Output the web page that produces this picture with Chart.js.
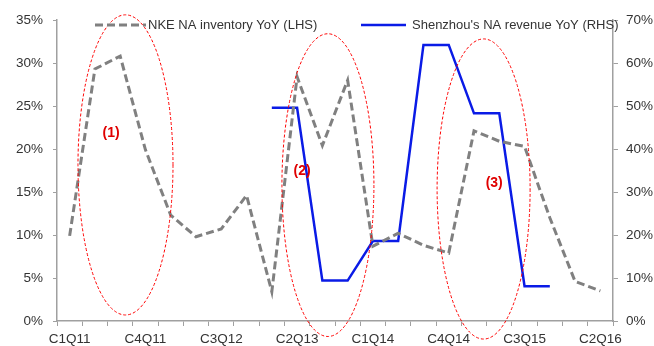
<!DOCTYPE html>
<html>
<head>
<meta charset="utf-8">
<script src="https://cdn.jsdelivr.net/npm/chart.js@4"></script>
<style>
  html, body { margin: 0; padding: 0; background: #fff; }
  #wrap { width: 654px; height: 346px; }
</style>
</head>
<body>
<div id="wrap"><canvas id="chart"></canvas></div>
<script>
var quarters = [
  "C1Q11", "C2Q11", "C3Q11", "C4Q11", "C1Q12", "C2Q12", "C3Q12", "C4Q12",
  "C1Q13", "C2Q13", "C3Q13", "C4Q13", "C1Q14", "C2Q14", "C3Q14", "C4Q14",
  "C1Q15", "C2Q15", "C3Q15", "C4Q15", "C1Q16", "C2Q16"
];
// NKE NA inventory YoY, % (left axis)
var nkeInventory = [9.9, 29.3, 30.8, 19.9, 12.3, 9.8, 10.7, 14.6, 3.4, 28.4, 20.4, 28.0,
  8.7, 10.2, 8.8, 7.9, 22.1, 20.9, 20.3, 12.0, 4.6, 3.5];
// Shenzhou NA revenue YoY, % (right axis)
var shenzhouRevenue = [null, null, null, null, null, null, null, null, 49.6, 49.6, 9.4, 9.4,
  18.6, 18.6, 64.2, 64.2, 48.3, 48.3, 8.1, 8.1, null, null];
var leftTicks = [0, 5, 10, 15, 20, 25, 30, 35];
var rightTicks = [0, 10, 20, 30, 40, 50, 60, 70];

// highlighted periods: center quarter index, half width in quarters, top/bottom on left axis (%)
var circles = [
  { label: "(1)", cx: 2.21, rx: 1.88, top: 35.6, bottom: 0.7, lx: 1.64, ly: 21.8 },
  { label: "(2)", cx: 10.22, rx: 1.82, top: 33.4, bottom: -1.8, lx: 9.2, ly: 17.4 },
  { label: "(3)", cx: 16.38, rx: 1.84, top: 32.8, bottom: -2.1, lx: 16.8, ly: 16.0 }
];

var FONT = "'Liberation Sans', Arial, sans-serif";
var AXIS = "#a0a0a0";

var annotations = {
  id: "annotations",
  afterDraw: function (chart) {
    var c = chart.ctx, x = chart.scales.x, y = chart.scales.y;
    c.save();
    circles.forEach(function (e) {
      var cx = x.getPixelForValue(e.cx);
      var rx = x.getPixelForValue(e.cx + e.rx) - cx;
      var t = y.getPixelForValue(e.top), b = y.getPixelForValue(e.bottom);
      c.beginPath();
      c.setLineDash([3, 2]);
      c.strokeStyle = "#ff0000";
      c.lineWidth = 1;
      c.ellipse(cx, (t + b) / 2, rx, (b - t) / 2, 0, 0, Math.PI * 2);
      c.stroke();
      c.setLineDash([]);
      c.fillStyle = "#e00000";
      c.font = "bold 14px " + FONT;
      c.textAlign = "center";
      c.textBaseline = "middle";
      c.fillText(e.label, x.getPixelForValue(e.lx), y.getPixelForValue(e.ly));
    });

    // legend
    var ds = chart.data.datasets;
    var items = [{ d: ds[0], x0: 95, x1: 146, tx: 148 }, { d: ds[1], x0: 361, x1: 406, tx: 412 }];
    items.forEach(function (it) {
      c.beginPath();
      c.strokeStyle = it.d.borderColor;
      c.lineWidth = it.d.borderWidth;
      c.setLineDash(it.d.borderDash || []);
      c.moveTo(it.x0, 25);
      c.lineTo(it.x1, 25);
      c.stroke();
      c.setLineDash([]);
      c.fillStyle = "#333";
      c.font = "13px " + FONT;
      c.textAlign = "left";
      c.textBaseline = "middle";
      c.fillText(it.d.label, it.tx, 25);
    });
    c.restore();
  }
};

new Chart(document.getElementById("chart"), {
  type: "line",
  data: {
    labels: quarters,
    datasets: [
      {
        label: "NKE NA inventory YoY (LHS)",
        data: nkeInventory,
        yAxisID: "y",
        borderColor: "#808080",
        borderWidth: 3,
        borderDash: [8, 4],
        pointRadius: 0,
        tension: 0
      },
      {
        label: "Shenzhou's NA revenue YoY (RHS)",
        data: shenzhouRevenue,
        yAxisID: "y1",
        borderColor: "#0a1be6",
        borderWidth: 2.5,
        pointRadius: 0,
        tension: 0,
        spanGaps: false
      }
    ]
  },
  options: {
    responsive: true,
    maintainAspectRatio: false,
    animation: false,
    layout: { padding: { top: 20, left: 0, right: 0, bottom: 0 } },
    plugins: {
      legend: { display: false },
      tooltip: { enabled: false }
    },
    scales: {
      x: {
        offset: true,
        grid: { offset: true, drawOnChartArea: false, drawTicks: true, tickLength: 5, color: AXIS },
        border: { color: AXIS, width: 1.5 },
        ticks: {
          autoSkip: false,
          maxRotation: 0,
          padding: 5,
          color: "#333",
          font: { family: FONT, size: 13.5 },
          callback: function (v, i) { return i % 3 === 0 ? quarters[i] : ""; }
        },
        afterFit: function (s) { s.height = 25; }
      },
      y: {
        position: "left",
        min: leftTicks[0],
        max: leftTicks[leftTicks.length - 1],
        afterBuildTicks: function (s) { s.ticks = leftTicks.map(function (v) { return { value: v }; }); },
        grid: { drawOnChartArea: false, tickLength: 4, color: AXIS },
        border: { color: AXIS, width: 1.5 },
        ticks: {
          padding: 10,
          color: "#333",
          font: { family: FONT, size: 13.5 },
          callback: function (v) { return v + "%"; }
        },
        afterFit: function (s) { s.width = 57; }
      },
      y1: {
        position: "right",
        min: rightTicks[0],
        max: rightTicks[rightTicks.length - 1],
        afterBuildTicks: function (s) { s.ticks = rightTicks.map(function (v) { return { value: v }; }); },
        grid: { drawOnChartArea: false, tickLength: 5, color: AXIS },
        border: { color: AXIS, width: 1.5 },
        ticks: {
          padding: 8,
          color: "#333",
          font: { family: FONT, size: 13.5 },
          callback: function (v) { return v + "%"; }
        },
        afterFit: function (s) { s.width = 41; }
      }
    }
  },
  plugins: [annotations]
});
</script>
</body>
</html>
